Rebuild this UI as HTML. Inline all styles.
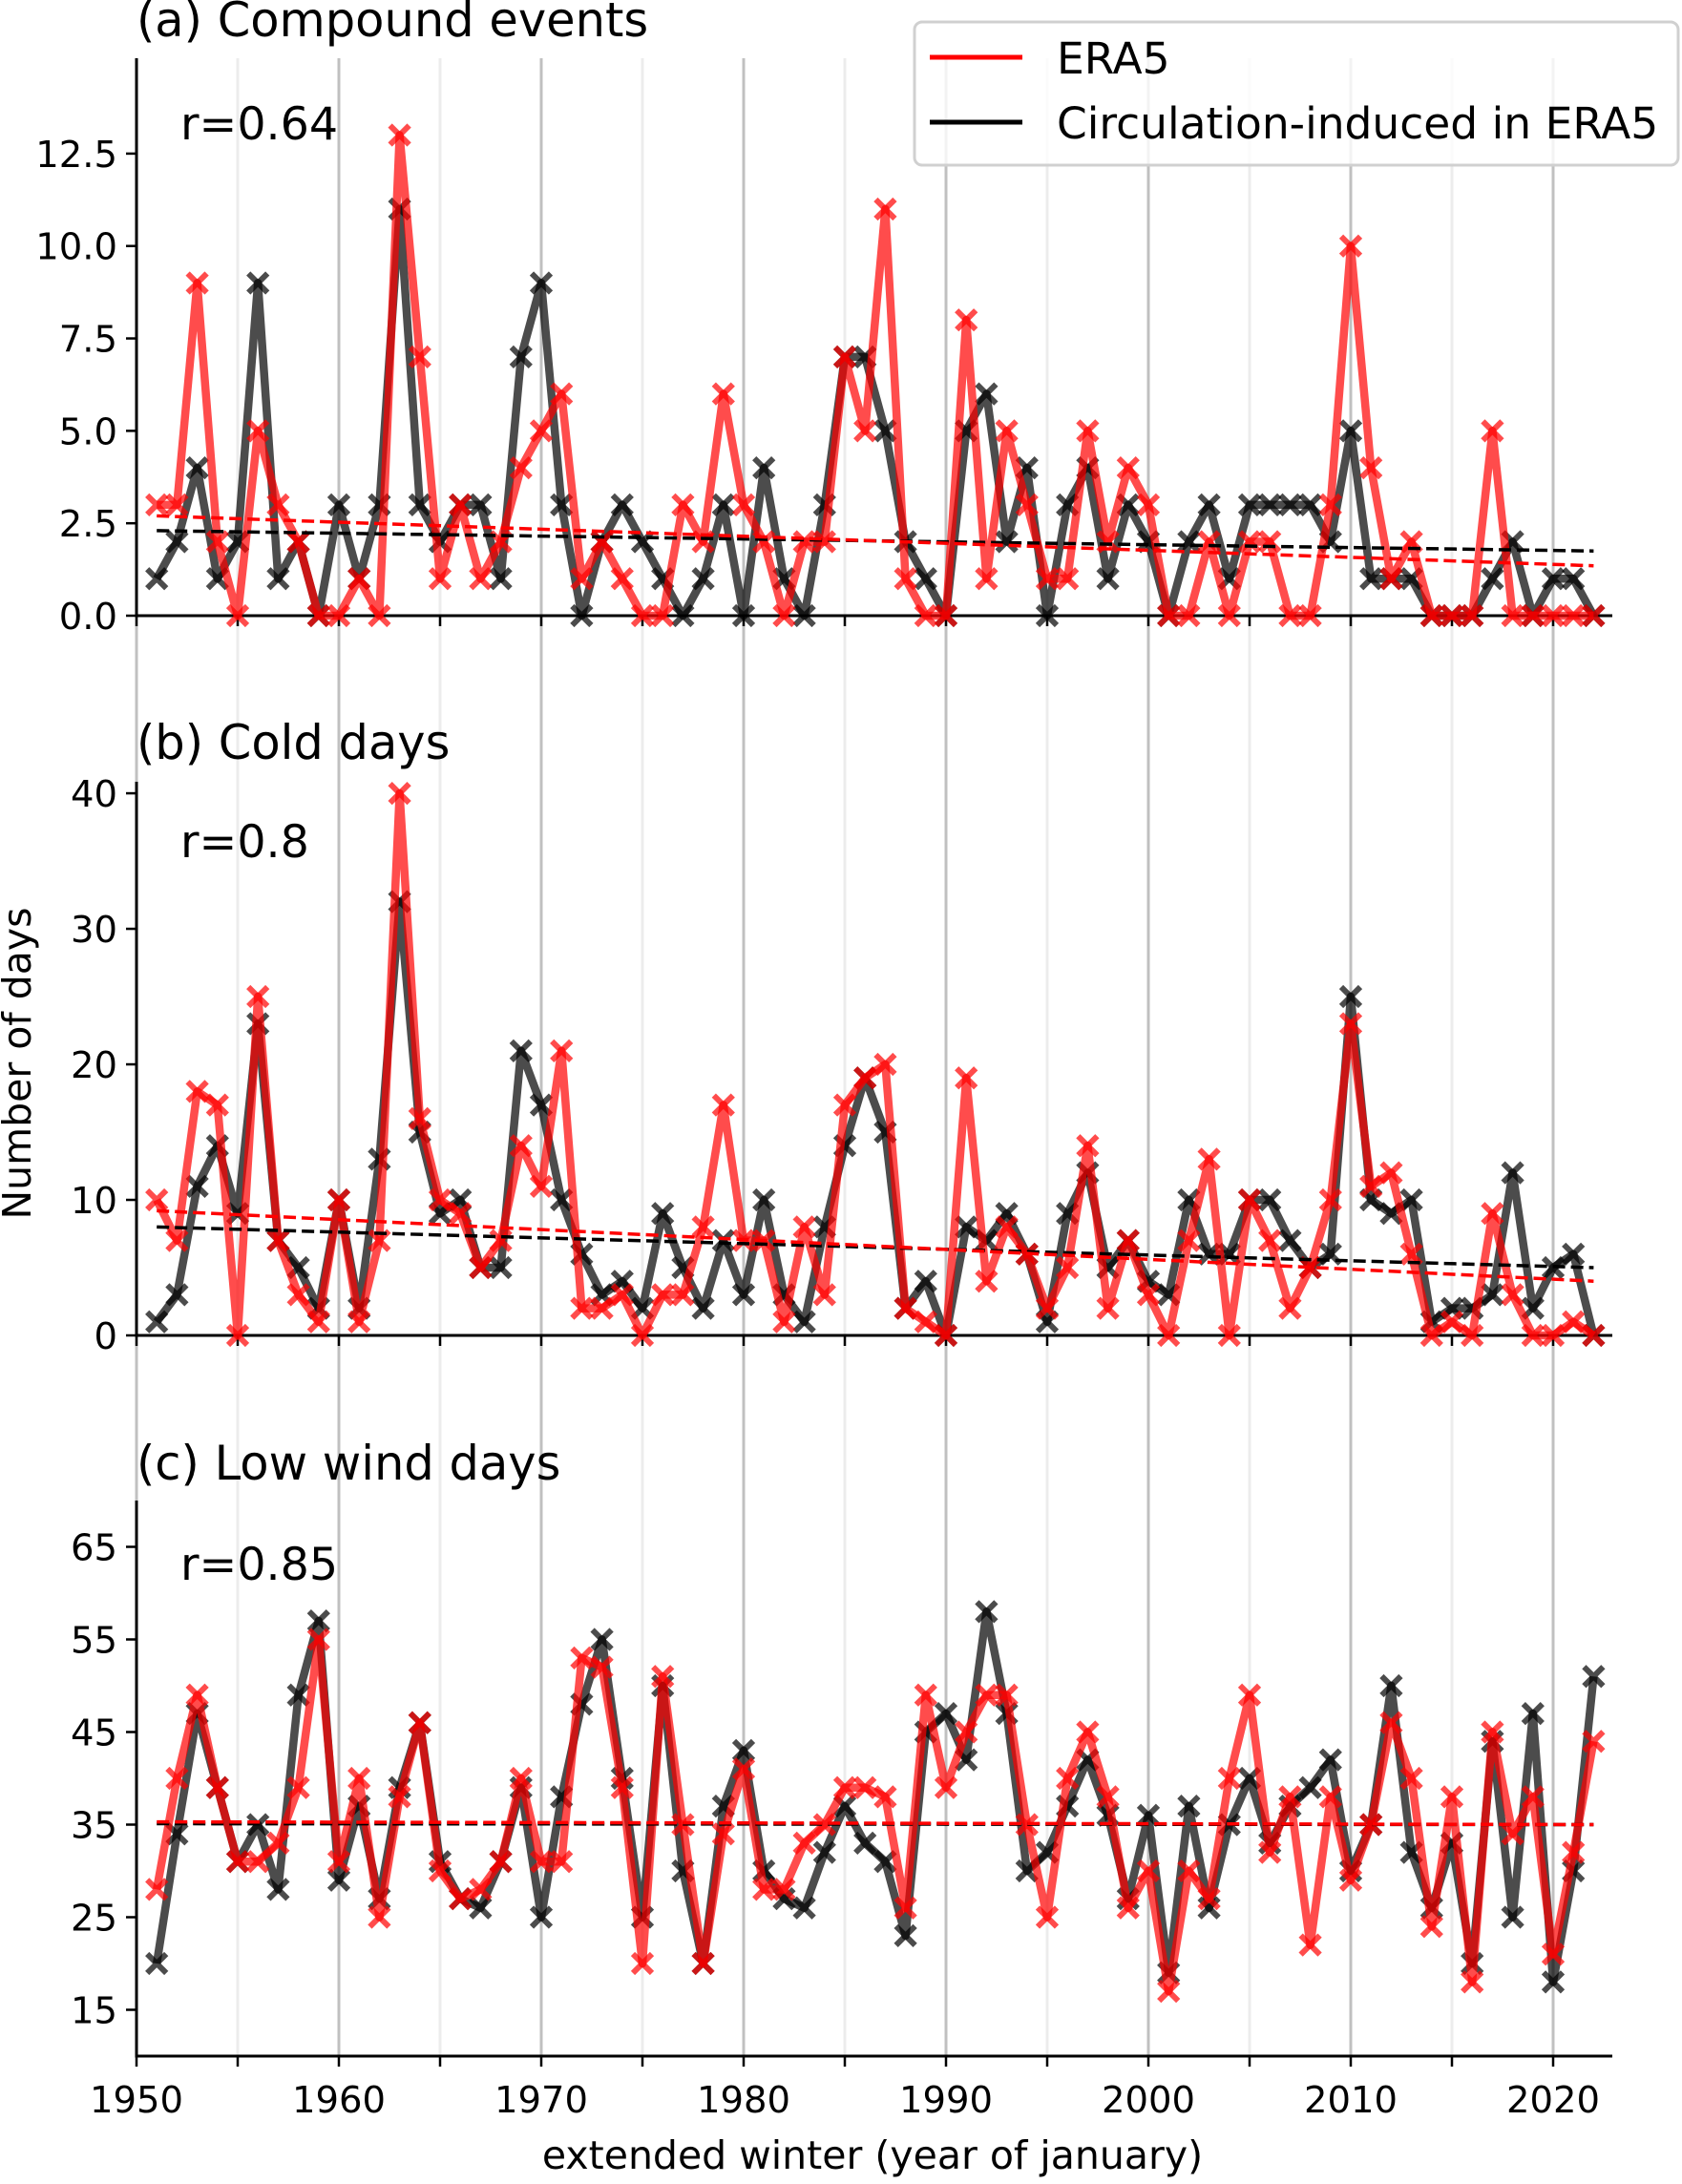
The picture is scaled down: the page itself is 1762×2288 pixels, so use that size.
<!DOCTYPE html>
<html><head><meta charset="utf-8"><style>
html,body{margin:0;padding:0;background:#fff;}
svg{display:block;font-family:"DejaVu Sans","Liberation Sans",sans-serif;}
</style></head><body>
<svg id="fig" width="1762" height="2288" viewBox="0 0 1762 2288" xmlns="http://www.w3.org/2000/svg">
<g id="grid"></g>
<g id="panels"></g>
<g id="legend">
  <rect x="958" y="23" width="800" height="150" rx="8" fill="#fff" fill-opacity="0.8" stroke="#d0d0d0" stroke-width="3"/>
  <line x1="974" y1="60" x2="1071" y2="60" stroke="#ff0000" stroke-width="5"/>
  <text x="1107" y="77" font-size="45.5">ERA5</text>
  <line x1="974" y1="128" x2="1071" y2="128" stroke="#000" stroke-width="5"/>
  <text x="1107" y="145" font-size="45.5">Circulation-induced in ERA5</text>
</g>
<text font-size="41" text-anchor="middle" transform="translate(32,1114) rotate(-90)">Number of days</text>
<text x="914" y="2272" font-size="41" text-anchor="middle">extended winter (year of january)</text>
</svg>
<script>
const years = [];
for (let y = 1951; y <= 2022; y++) years.push(y);
const compoundEra5 = [3,3,9,2,0,5,3,2,0,0,1,0,13,7,1,3,1,2,4,5,6,1,2,1,0,0,3,2,6,3,2,0,2,2,7,5,11,1,0,0,8,1,5,3,1,1,5,2,4,3,0,0,2,0,2,2,0,0,3,10,4,1,2,0,0,0,5,0,0,0,0,0];
const compoundCirc = [1,2,4,1,2,9,1,2,0,3,1,3,11,3,2,3,3,1,7,9,3,0,2,3,2,1,0,1,3,0,4,1,0,3,7,7,5,2,1,0,5,6,2,4,0,3,4,1,3,2,0,2,3,1,3,3,3,3,2,5,1,1,1,0,0,0,1,2,0,1,1,0];
const coldEra5 = [10,7,18,17,0,25,7,3,1,10,1,7,40,16,10,9,5,7,14,11,21,2,2,3,0,3,3,8,17,7,7,1,8,3,17,19,20,2,1,0,19,4,8,6,2,5,14,2,7,3,0,7,13,0,10,7,2,5,10,23,11,12,6,0,1,0,9,3,0,0,1,0];
const coldCirc = [1,3,11,14,9,23,7,5,2,10,2,13,32,15,9,10,5,5,21,17,10,6,3,4,2,9,5,2,7,3,10,3,1,8,14,19,15,2,4,0,8,7,9,6,1,9,12,5,7,4,3,10,6,6,10,10,7,5,6,25,10,9,10,1,2,2,3,12,2,5,6,0];
const windEra5 = [28,40,49,39,31,31,33,39,55,31,40,25,38,46,30,27,28,31,40,31,31,53,52,39,20,51,35,20,34,41,28,28,33,35,39,39,38,26,49,39,45,49,49,35,25,40,45,38,26,30,17,30,27,40,49,32,38,22,38,29,35,46,40,24,38,18,45,34,38,21,32,44];
const windCirc = [20,34,47,39,31,35,28,49,57,29,37,27,39,46,31,27,26,31,39,25,38,48,55,40,25,50,30,20,37,43,30,27,26,32,37,33,31,23,45,47,42,58,47,30,32,37,42,36,27,36,19,37,26,35,40,33,37,39,42,30,35,50,32,26,33,20,44,25,47,18,30,51];
// trend line endpoints [value at 1951, value at 2022]
const trendCompoundEra5 = [2.7, 1.35];
const trendCompoundCirc = [2.3, 1.75];
const trendColdEra5 = [9.2, 4.0];
const trendColdCirc = [8.0, 5.0];
const trendWindEra5 = [35.3, 35.0];
const trendWindCirc = [35.1, 35.0];
const titles = ["(a) Compound events","(b) Cold days","(c) Low wind days"];
const rLabels = ["r=0.64","r=0.8","r=0.85"];
const ticksA = [0,2.5,5,7.5,10,12.5];
const tickLabelsA = ["0.0","2.5","5.0","7.5","10.0","12.5"];
const ticksB = [0,10,20,30,40];
const tickLabelsB = ["0","10","20","30","40"];
const ticksC = [15,25,35,45,55,65];
const tickLabelsC = ["15","25","35","45","55","65"];
const xTicks = [1950,1960,1970,1980,1990,2000,2010,2020];

const NS = "http://www.w3.org/2000/svg";
function mk(tag, attrs, parent){const e=document.createElementNS(NS,tag);for(const k in attrs)e.setAttribute(k,attrs[k]);parent.appendChild(e);return e;}
const X0=143, XR=1689, PX=21.2;
const xs = y => X0 + (y-1950)*PX;

const panels = [
 {name:"compound", top:61, bottom:645, ymin:0, ymax:15.08, e:compoundEra5, c:compoundCirc, te:trendCompoundEra5, tc:trendCompoundCirc, ticks:ticksA, tl:tickLabelsA, titleY:38, rY:146},
 {name:"cold", top:819, bottom:1399, ymin:0, ymax:40.85, e:coldEra5, c:coldCirc, te:trendColdEra5, tc:trendColdCirc, ticks:ticksB, tl:tickLabelsB, titleY:795, rY:898},
 {name:"low-wind", top:1572, bottom:2154, ymin:10, ymax:70, e:windEra5, c:windCirc, te:trendWindEra5, tc:trendWindCirc, ticks:ticksC, tl:tickLabelsC, titleY:1550, rY:1655}
];

const grid=document.getElementById('grid');
for(let y=1950;y<=2020;y+=5){
  const l=mk('line',{x1:xs(y),x2:xs(y),y1:61,y2:2154,stroke:(y%10===0)?'#c0c0c0':'#ececec','stroke-width':3},grid);
  
  
}

const root=document.getElementById('panels');
panels.forEach((p,pi)=>{
  const g=mk('g',{},root);
  
  
  const ys=v=>p.bottom-(v-p.ymin)*(p.bottom-p.top)/(p.ymax-p.ymin);
  const ax=mk('path',{d:`M${X0},${p.top} V${p.bottom} H${XR}`,fill:'none',stroke:'#000','stroke-width':3},g);
  
  
  p.ticks.forEach((t,i)=>{
    const tk=mk('line',{x1:X0-11,x2:X0,y1:ys(t),y2:ys(t),stroke:'#000','stroke-width':2.5},g);
    
    
    const tx=mk('text',{x:X0-20,y:ys(t)+14,'font-size':38.5,'text-anchor':'end'},g);
    tx.textContent=p.tl[i];
    
    
  });
  for(let y=1950;y<=2020;y+=5){
    const tk=mk('line',{x1:xs(y),x2:xs(y),y1:p.bottom,y2:p.bottom+11,stroke:'#000','stroke-width':2.5},g);
    
    
  }
  const tt=mk('text',{x:X0,y:p.titleY,'font-size':49.5},g);
  tt.textContent=titles[pi];
  
  
  const rt=mk('text',{x:189,y:p.rY,'font-size':47.5},g);
  rt.textContent=rLabels[pi];
  
  
  [[p.c,'rgba(0,0,0,0.7)','circulation'],[p.e,'rgba(255,0,0,0.7)','era5']].forEach(([vals,col,nm])=>{
    const sg=mk('g',{},g);
    
    
    const pts=vals.map((v,i)=>xs(years[i])+','+ys(v)).join(' ');
    const pl=mk('polyline',{points:pts,fill:'none',stroke:col,'stroke-width':8.5,'stroke-linejoin':'round'},sg);
    
    
    vals.forEach((v,i)=>{
      const cx=xs(years[i]),cy=ys(v),s=10;
      const m=mk('path',{d:`M${cx-s},${cy-s}L${cx+s},${cy+s}M${cx-s},${cy+s}L${cx+s},${cy-s}`,stroke:col,'stroke-width':6,fill:'none'},sg);
      
      
    });
  });
  [[p.tc,'#000','circulation'],[p.te,'#ff0000','era5']].forEach(([tr,col,nm])=>{
    const tl=mk('line',{x1:xs(1951),y1:ys(tr[0]),x2:xs(2022),y2:ys(tr[1]),stroke:col,'stroke-width':3.5,'stroke-dasharray':'13 6'},g);
    
    
  });
});
xTicks.forEach(y=>{
  const t=mk('text',{x:xs(y),y:2213,'font-size':38.5,'text-anchor':'middle'},root);
  t.textContent=String(y);
  
  
});
</script>
</body></html>
